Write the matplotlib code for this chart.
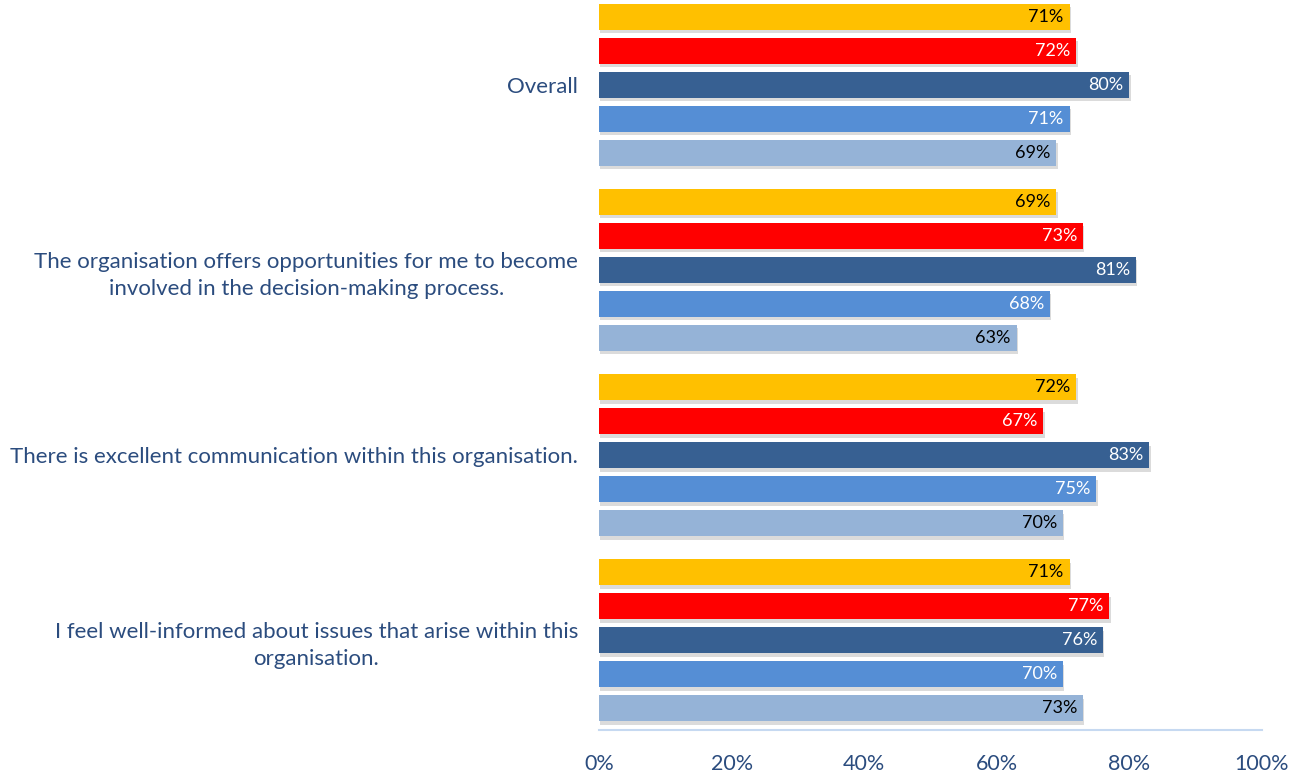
import matplotlib.pyplot as plt
import matplotlib.patheffects as pe
import numpy as np

plt.rcParams['font.family'] = ['Lato', 'DejaVu Sans']

questions = [
    "Overall",
    "The organisation offers opportunities for me to become\ninvolved in the decision-making process.",
    "There is excellent communication within this organisation.",
    "I feel well-informed about issues that arise within this\norganisation.",
]
# one list per series, in the order the bars stack top to bottom
series_yellow = [71, 69, 72, 71]
series_red = [72, 73, 67, 77]
series_dark = [80, 81, 83, 76]
series_mid = [71, 68, 75, 70]
series_light = [69, 63, 70, 73]

all_series = [series_yellow, series_red, series_dark, series_mid, series_light]
colors = ["#FFC000", "#FF0000", "#376092", "#558ED5", "#95B3D7"]
text_colors = ["black", "white", "white", "white", "black"]
label_color = "#2B4C7E"

fig = plt.figure(figsize=(13.03, 7.75), dpi=100)
ax = fig.add_axes([0.4597, 0.058, 0.5088, 0.942])

pitch = 0.1838
height = 0.1405
ypos = np.arange(len(questions))
shadow = [pe.SimplePatchShadow(offset=(1, -2.5), shadow_rgbFace="#999999", alpha=0.35), pe.Normal()]

for k, (vals, col, tcol) in enumerate(zip(all_series, colors, text_colors)):
    y = ypos + (k - 2) * pitch
    bars = ax.barh(y, vals, height=height, color=col, zorder=3)
    for b in bars:
        b.set_path_effects(shadow)
    for yy, v in zip(y, vals):
        ax.text(v - 0.9, yy, f"{v}%", ha="right", va="center",
                color=tcol, fontsize=13, zorder=4)

ax.set_xlim(0, 100)
ax.set_ylim(3.486, -0.459)
ax.set_xticks(np.arange(0, 101, 20))
ax.set_xticklabels([f"{t}%" for t in range(0, 101, 20)], fontsize=15.5, color=label_color)
ax.set_yticks(ypos)
ax.set_yticklabels(questions, fontsize=16, color=label_color,
                   multialignment="center", linespacing=1.45)
ax.tick_params(axis="both", length=0)
ax.tick_params(axis="x", pad=17)
ax.tick_params(axis="y", pad=15)

for s in ["top", "right", "left"]:
    ax.spines[s].set_visible(False)
ax.spines["bottom"].set_color("#C6D9F1")
ax.spines["bottom"].set_linewidth(1.5)

fig.savefig("out.png", dpi=100)
